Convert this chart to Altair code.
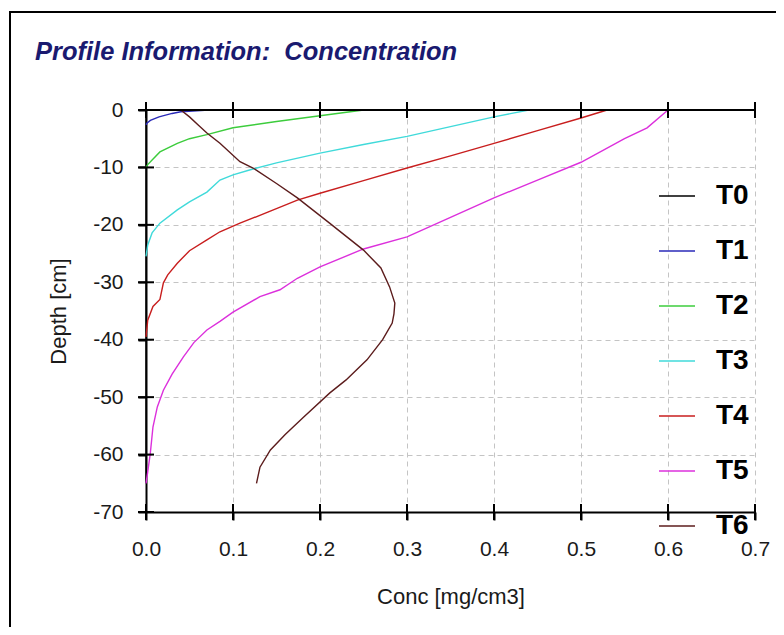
import altair as alt
import pandas as pd

# ---------------- data ----------------
series_names = ["T0", "T1", "T2", "T3", "T4", "T5", "T6"]
series_colors = ["#000000", "#2a2ab8", "#3ccc3c", "#40dada", "#c81e1e", "#dc30dc", "#5c1c1c"]

t0_conc = [0.0, 0.0]
t0_depth = [0.0, -65.0]

t1_conc = [0.072, 0.04, 0.03, 0.015, 0.005, 0.001, 0.0]
t1_depth = [0.0, -0.3, -0.6, -1.2, -1.8, -2.3, -2.6]

t2_conc = [0.25, 0.2, 0.15, 0.1, 0.07, 0.05, 0.036, 0.016, 0.007, 0.002, 0.0]
t2_depth = [0.0, -1.0, -2.0, -3.1, -4.3, -5.0, -5.8, -7.3, -8.7, -9.5, -10.0]

t3_conc = [0.44, 0.4, 0.35, 0.3, 0.25, 0.2, 0.15, 0.12, 0.1, 0.085, 0.07, 0.05, 0.036, 0.016, 0.007, 0.002, 0.0]
t3_depth = [0.0, -1.2, -2.9, -4.6, -6.0, -7.5, -9.2, -10.4, -11.3, -12.2, -14.3, -16.0, -17.4, -19.7, -21.4, -23.5, -25.5]

t4_conc = [0.53, 0.5, 0.45, 0.4, 0.35, 0.3, 0.25, 0.2, 0.174, 0.14, 0.108, 0.085, 0.07, 0.05, 0.036, 0.025, 0.02, 0.016, 0.008, 0.002, 0.0]
t4_depth = [0.0, -1.4, -3.6, -5.8, -8.0, -10.1, -12.3, -14.5, -15.7, -17.8, -19.7, -21.2, -22.6, -24.5, -26.7, -28.7, -30.1, -33.0, -34.2, -36.6, -39.5]

t5_conc = [0.6, 0.576, 0.55, 0.5, 0.45, 0.4, 0.35, 0.3, 0.25, 0.2, 0.174, 0.154, 0.131, 0.1, 0.085, 0.07, 0.055, 0.043, 0.03, 0.02, 0.013, 0.008, 0.005, 0.002, 0.0]
t5_depth = [0.0, -3.1, -5.0, -9.1, -12.2, -15.3, -18.7, -22.1, -24.2, -27.3, -29.3, -31.3, -32.5, -35.2, -36.8, -38.3, -40.5, -43.0, -46.0, -48.8, -51.7, -55.2, -59.7, -63.0, -65.0]

t6_conc = [0.04, 0.05, 0.06, 0.07, 0.085, 0.108, 0.123, 0.15, 0.174, 0.211, 0.25, 0.27, 0.28, 0.286, 0.285, 0.283, 0.272, 0.254, 0.23, 0.211, 0.181, 0.16, 0.143, 0.131, 0.127]
t6_depth = [0.0, -1.2, -2.6, -4.0, -5.8, -9.0, -10.1, -12.8, -15.3, -19.7, -24.4, -27.5, -30.8, -33.6, -35.5, -37.1, -40.0, -43.5, -47.0, -49.3, -53.5, -56.5, -59.2, -62.2, -65.0]

x_ticks = [0.0, 0.1, 0.2, 0.3, 0.4, 0.5, 0.6, 0.7]
y_ticks = [0, -10, -20, -30, -40, -50, -60, -70]

title_text = "Profile Information:\u00a0 Concentration"
x_title = "Conc [mg/cm3]"
y_title = "Depth [cm]"

# ---------------- build tables ----------------
all_conc = [t0_conc, t1_conc, t2_conc, t3_conc, t4_conc, t5_conc, t6_conc]
all_depth = [t0_depth, t1_depth, t2_depth, t3_depth, t4_depth, t5_depth, t6_depth]
rows = []
for name, cs, ds in zip(series_names, all_conc, all_depth):
    for i, (c, d) in enumerate(zip(cs, ds)):
        rows.append({"series": name, "conc": c, "depth": d, "i": i})
df = pd.DataFrame(rows)

top_ticks = pd.DataFrame({"conc": x_ticks, "depth": [y_ticks[0]] * len(x_ticks)})
bot_ticks = pd.DataFrame({"conc": x_ticks, "depth": [y_ticks[-1]] * len(x_ticks)})
left_ticks = pd.DataFrame({"conc": [x_ticks[0]] * len(y_ticks), "depth": y_ticks})
zero_line = pd.DataFrame({"conc": [x_ticks[0]], "conc2": [x_ticks[-1]], "depth": [y_ticks[0]]})
one = pd.DataFrame({"k": [0]})

FONT = "Liberation Sans, Arial, sans-serif"
W, H = 609, 402

xscale = alt.Scale(domain=[0, 0.7], nice=False, zero=False)
yscale = alt.Scale(domain=[-70, 0], nice=False, zero=False)

x_axis = alt.Axis(values=x_ticks, format=".1f", title=x_title, grid=True,
                  gridDash=[5, 4], gridColor="#c4c4c4", gridWidth=1,
                  domainColor="#000000", domainWidth=2, tickColor="#000000",
                  tickWidth=2, tickSize=8, labelPadding=18, labelFontSize=21,
                  labelFont=FONT, labelColor="#1a1a1a", titleFont=FONT,
                  titleFontSize=22, titleFontWeight="normal", titleColor="#1a1a1a",
                  titlePadding=27, labelFlush=False)
y_axis = alt.Axis(values=y_ticks, labelExpr="'' + datum.value", title=y_title, grid=True,
                  gridDash=[5, 4], gridColor="#c4c4c4", gridWidth=1,
                  domainColor="#000000", domainWidth=2, tickColor="#000000",
                  tickWidth=2, tickSize=8, labelPadding=15, labelFontSize=21,
                  labelFont=FONT, labelColor="#1a1a1a", titleFont=FONT,
                  titleFontSize=22, titleFontWeight="normal", titleColor="#1a1a1a",
                  titlePadding=22, labelFlush=False)

X = alt.X("conc:Q", scale=xscale, axis=x_axis)
Y = alt.Y("depth:Q", scale=yscale, axis=y_axis)

lines = alt.Chart(df).mark_line(strokeWidth=1.4, clip=False).encode(
    x=X, y=Y,
    color=alt.Color("series:N",
                    scale=alt.Scale(domain=series_names, range=series_colors),
                    legend=alt.Legend(orient="none", legendX=512, legendY=67,
                                      direction="vertical", title=None,
                                      labelFont=FONT, labelFontSize=28,
                                      labelFontWeight="bold", labelColor="#000000",
                                      symbolType="stroke", symbolSize=1296,
                                      symbolStrokeWidth=1.5, rowPadding=22,
                                      labelOffset=20, padding=0)),
    order="i:Q",
)

top_line = alt.Chart(zero_line).mark_rule(color="#000000", strokeWidth=2).encode(
    x=X, x2="conc2:Q", y=Y)

def tick_layer(data, orient):
    return alt.Chart(data).mark_tick(orient=orient, size=16, thickness=2,
                                     color="#000000", opacity=1).encode(x=X, y=Y)

frame = alt.Chart(one).mark_rect(fillOpacity=0, stroke="#000000", strokeWidth=2).encode(
    x=alt.value(-136), x2=alt.value(W + 40), y=alt.value(-98), y2=alt.value(H + 200))

title = alt.Chart(one).mark_text(align="left", baseline="alphabetic", font=FONT,
                                 fontSize=25.5, fontWeight="bold", fontStyle="italic",
                                 color="#1a1a70").encode(
    x=alt.value(-111), y=alt.value(-50.5), text=alt.value(title_text))

chart = alt.layer(
    lines,
    top_line,
    tick_layer(top_ticks, "vertical"),
    tick_layer(bot_ticks, "vertical"),
    tick_layer(left_ticks, "horizontal"),
    frame,
    title,
).properties(
    width=W, height=H,
    autosize=alt.AutoSizeParams(type="none"),
    padding={"left": 138, "top": 102, "right": 21, "bottom": 115},
    background="#ffffff",
).configure_view(stroke="transparent")

chart.save("out.html", embed_options={"renderer": "svg", "actions": False})
